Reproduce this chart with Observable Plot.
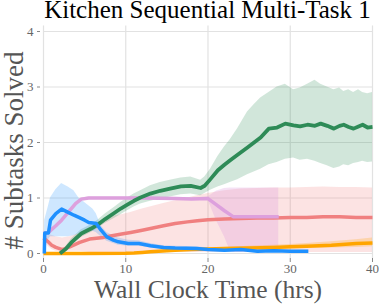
<!DOCTYPE html>
<html>
<head>
<meta charset="utf-8">
<script src="https://cdn.jsdelivr.net/npm/d3@7"></script>
<script src="https://cdn.jsdelivr.net/npm/@observablehq/plot@0.6"></script>
<style>
  html, body { margin: 0; padding: 0; background: #fff; }
  #title { height: 20px; line-height: 20px; font-family: "Liberation Serif", serif; font-size: 25px; color: #000;
           text-align: center; padding-left: 40px; padding-right: 4px; white-space: nowrap; overflow: visible; }
  #chart svg { display: block; }
</style>
</head>
<body>
<div id="title">Kitchen Sequential Multi-Task 1</div>
<div id="chart"></div>
<script>
const titleText = "Kitchen Sequential Multi-Task 1";
const xLabel = "Wall Clock Time (hrs)";
const yLabel = "# Subtasks Solved";
const xTicks = [0, 10, 20, 30, 40];
const yTicks = [0, 1, 2, 3, 4];

// Green series
const greenT  = [2.0, 2.7, 3.4, 4.6, 5.8, 6.6, 7.5, 8.6, 9.4, 10.2, 11, 11.8, 13, 14.2, 15.4, 16.7, 17.9, 19.1, 19.6, 20.3, 21.2, 22, 22.7, 23.6, 24.8, 25.6, 26.4, 27.4, 28.4, 29.4, 30.4, 31.2, 32.1, 33, 33.7, 34.5, 35.3, 36, 36.5, 37.1, 37.7, 38.3, 38.8, 39.4, 40];
const greenY  = [0, 0.08, 0.2, 0.36, 0.45, 0.52, 0.62, 0.73, 0.81, 0.88, 0.95, 1.01, 1.08, 1.13, 1.17, 1.21, 1.22, 1.18, 1.22, 1.34, 1.5, 1.6, 1.68, 1.78, 1.91, 2.0, 2.09, 2.25, 2.27, 2.34, 2.31, 2.29, 2.32, 2.3, 2.34, 2.3, 2.25, 2.3, 2.32, 2.28, 2.25, 2.29, 2.32, 2.27, 2.28];
const greenLo = [0, 0.04, 0.14, 0.29, 0.38, 0.45, 0.54, 0.63, 0.7, 0.77, 0.84, 0.89, 0.94, 0.98, 1.02, 1.06, 1.07, 1.04, 1.08, 1.14, 1.2, 1.24, 1.28, 1.33, 1.42, 1.47, 1.52, 1.6, 1.64, 1.7, 1.72, 1.68, 1.7, 1.66, 1.62, 1.58, 1.53, 1.56, 1.6, 1.58, 1.62, 1.64, 1.66, 1.64, 1.65];
const greenHi = [0.02, 0.12, 0.26, 0.43, 0.52, 0.6, 0.71, 0.83, 0.92, 1.0, 1.07, 1.13, 1.22, 1.28, 1.32, 1.36, 1.38, 1.32, 1.38, 1.52, 1.75, 1.92, 2.05, 2.25, 2.55, 2.68, 2.8, 2.9, 3.0, 3.05, 2.95, 2.98, 3.05, 3.12, 3.05, 3.0, 2.95, 2.98, 2.92, 2.95, 2.9, 2.95, 2.9, 2.88, 2.9];

// Pink (coral) series
const pinkT  = [0, 0.5, 1, 1.5, 2.3, 3.2, 4.4, 5.6, 7.3, 8, 9.5, 10.6, 12, 13.3, 14.6, 16, 17.5, 18.7, 20, 22, 24, 26, 28, 30, 32, 34, 36, 38, 40];
const pinkY  = [0.28, 0.22, 0.15, 0.11, 0.07, 0.12, 0.2, 0.26, 0.29, 0.31, 0.35, 0.38, 0.42, 0.46, 0.5, 0.54, 0.57, 0.59, 0.61, 0.62, 0.63, 0.64, 0.64, 0.65, 0.65, 0.66, 0.66, 0.65, 0.65];
const pinkLo = [0.22, 0.14, 0.07, 0.04, 0.03, 0.04, 0.04, 0.02, 0.02, 0.02, 0.02, 0.02, 0.02, 0.02, 0.02, 0.02, 0.02, 0.02, 0.02, 0.02, 0.02, 0.02, 0.02, 0.02, 0.02, 0.02, 0.02, 0.02, 0.02];
const pinkHi = [0.36, 0.35, 0.33, 0.3, 0.28, 0.3, 0.36, 0.46, 0.6, 0.66, 0.7, 0.74, 0.8, 0.85, 0.9, 0.95, 1.0, 1.04, 1.08, 1.13, 1.16, 1.17, 1.18, 1.18, 1.19, 1.2, 1.19, 1.19, 1.18];

// Violet (plum) series
const violetT  = [0, 0.6, 1.5, 2.2, 3, 3.9, 4.6, 5.5, 8, 12, 16, 18, 20, 21, 22, 22.7, 23.1, 25, 27, 28.6];
const violetY  = [0.36, 0.38, 0.5, 0.6, 0.74, 0.9, 0.98, 1.0, 1.0, 1.0, 0.99, 0.98, 0.99, 0.88, 0.77, 0.7, 0.66, 0.66, 0.66, 0.66];
const violetLo = [0.34, 0.36, 0.48, 0.58, 0.72, 0.88, 0.96, 0.98, 0.98, 0.98, 0.97, 0.96, 0.97, 0.6, 0.3, 0.05, 0.02, 0.02, 0.02, 0.02];
const violetHi = [0.38, 0.4, 0.52, 0.62, 0.76, 0.92, 1.0, 1.02, 1.02, 1.02, 1.01, 1.0, 1.02, 1.12, 1.17, 1.18, 1.18, 1.18, 1.18, 1.18];

// Blue series
const blueT  = [0.1, 0.15, 0.6, 0.85, 1.5, 2.2, 3, 3.7, 4.3, 5, 5.5, 6, 6.4, 7, 7.7, 8.5, 9.1, 10.3, 11.6, 13, 14.6, 16, 18.6, 20, 22, 24, 26, 28, 30, 32.2];
const blueY  = [0, 0.37, 0.37, 0.6, 0.72, 0.8, 0.74, 0.69, 0.65, 0.6, 0.56, 0.55, 0.54, 0.42, 0.3, 0.24, 0.21, 0.18, 0.18, 0.14, 0.11, 0.1, 0.09, 0.07, 0.06, 0.07, 0.04, 0.05, 0.04, 0.04];
const blueLo = [0, 0.1, 0.25, 0.3, 0.3, 0.3, 0.3, 0.32, 0.35, 0.38, 0.4, 0.4, 0.38, 0.3, 0.22, 0.18, 0.15, 0.13, 0.13, 0.1, 0.08, 0.07, 0.06, 0.04, 0.04, 0.05, 0.02, 0.03, 0.02, 0.02];
const blueHi = [0, 0.6, 0.85, 1.0, 1.15, 1.26, 1.2, 1.13, 1.0, 0.92, 0.86, 0.8, 0.72, 0.5, 0.38, 0.32, 0.28, 0.24, 0.23, 0.18, 0.14, 0.13, 0.12, 0.1, 0.08, 0.09, 0.06, 0.07, 0.06, 0.06];

// Orange series
const orangeT  = [0, 5, 10, 11, 12, 13, 14, 15, 16, 18, 20, 22, 25, 28, 30, 32, 35, 38, 40];
const orangeY  = [0, 0, 0.005, 0.01, 0.02, 0.03, 0.04, 0.05, 0.06, 0.07, 0.08, 0.09, 0.1, 0.11, 0.12, 0.13, 0.15, 0.18, 0.19];
const orangeLo = [0, 0, 0, 0, 0.01, 0.02, 0.03, 0.04, 0.05, 0.05, 0.06, 0.07, 0.07, 0.08, 0.08, 0.09, 0.1, 0.11, 0.12];
const orangeHi = [0.01, 0.01, 0.01, 0.02, 0.03, 0.04, 0.05, 0.06, 0.07, 0.08, 0.1, 0.11, 0.13, 0.15, 0.16, 0.18, 0.21, 0.25, 0.28];

const seriesColors = {green: "#2e8b57", pink: "#f08080", violet: "#dda0dd", blue: "#1e90ff", orange: "#ffa500"};

function rows(t, y, lo, hi) { return t.map((x, i) => ({x, y: y[i], lo: lo[i], hi: hi[i]})); }
const G = rows(greenT, greenY, greenLo, greenHi);
const P = rows(pinkT, pinkY, pinkLo, pinkHi);
const V = rows(violetT, violetY, violetLo, violetHi);
const B = rows(blueT, blueY, blueLo, blueHi);
const O = rows(orangeT, orangeY, orangeLo, orangeHi);

const band = (d, c, op) => Plot.areaY(d, {x: "x", y1: "lo", y2: "hi", fill: c, fillOpacity: op});
const line = (d, c, w) => Plot.line(d, {x: "x", y: "y", stroke: c, strokeWidth: w, strokeLinejoin: "round", strokeLinecap: "butt"});

const chart = Plot.plot({
  width: 379, height: 285,
  marginTop: 5, marginBottom: 47, marginLeft: 40, marginRight: 4,
  style: {fontFamily: "'Liberation Serif', serif", fontSize: "13px", color: "#666", background: "#fff"},
  x: {domain: [0, 40], insetLeft: 3, insetRight: 3},
  y: {domain: [0, 4], insetTop: 6, insetBottom: 5},
  marks: [
    Plot.ruleY(yTicks, {x1: 0, x2: 40, stroke: "#e2e2e2", strokeWidth: 1.2}),
    Plot.ruleX(xTicks, {y1: -0.09, y2: 4.1, stroke: "#e2e2e2", strokeWidth: 1.2}),
    Plot.axisX({ticks: xTicks, tickFormat: d => String(d), tickSize: 4, tickPadding: 1, label: null, fontSize: 13, stroke: "#888", fill: "#666"}),
    Plot.axisY({ticks: yTicks, tickFormat: d => String(d), tickSize: 3, tickPadding: 4, label: null, fontSize: 13, stroke: "#888", fill: "#666"}),
    band(P, seriesColors.pink, 0.22),
    band(V, seriesColors.violet, 0.3),
    band(G, seriesColors.green, 0.22),
    band(B, seriesColors.blue, 0.22),
    band(O, seriesColors.orange, 0.25),
    line(O, seriesColors.orange, 3.5),
    line(P, seriesColors.pink, 3.5),
    line(V, seriesColors.violet, 3.5),
    line(G, seriesColors.green, 3.8),
    line(B, seriesColors.blue, 3.5),
    Plot.text([xLabel], {frameAnchor: "bottom", textAnchor: "middle", lineAnchor: "middle", dy: 31.8, fontSize: 25.5, fill: "#555"}),
    Plot.text([yLabel], {frameAnchor: "left", textAnchor: "middle", lineAnchor: "middle", rotate: -90, dx: -26.5, dy: 8.5, fontSize: 27, fill: "#555"})
  ]
});
document.getElementById("chart").appendChild(chart);
</script>
</body>
</html>
